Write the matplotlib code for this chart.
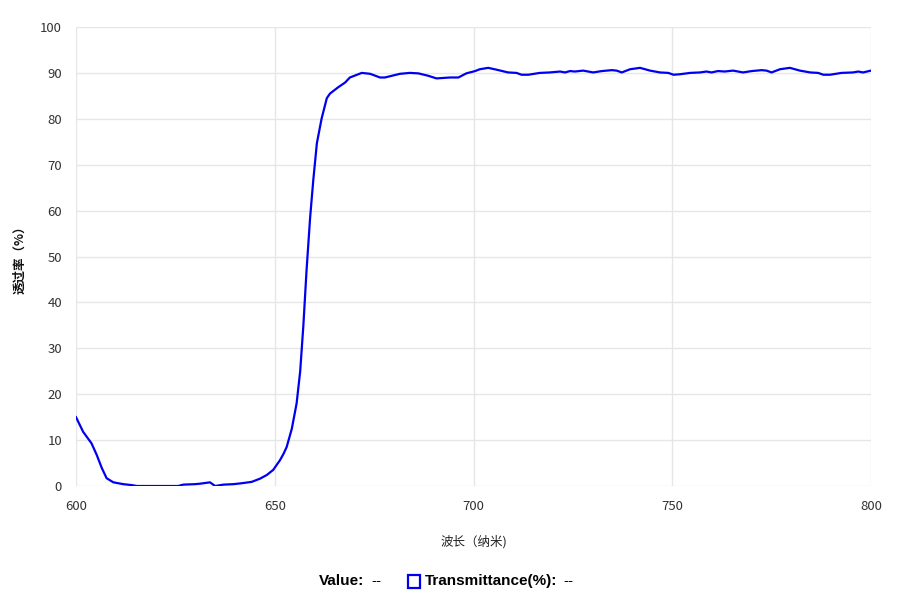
import matplotlib
matplotlib.use("Agg")
import matplotlib.pyplot as plt
from matplotlib.patches import Rectangle

plt.rcParams['font.family'] = ['Noto Sans CJK SC', 'DejaVu Sans']

wavelength = [600, 601.8, 603.9, 605.2, 606.5, 607.7, 609.4, 611.9, 614, 615.3, 620, 625.7,
              627, 629.9, 631.2, 633.7, 635, 637.1, 639.6, 641.7, 644.2, 646.3, 648, 649.6,
              651.3, 652.2, 653, 654.3, 655.5, 656.4, 657.2, 658.0, 658.9, 659.7, 660.6,
              661.8, 663.1, 663.9, 666, 667.7, 668.9, 671.9, 674, 676.5, 677.7, 681.5, 684,
              686.1, 688.5, 690.7, 694.1, 696.2, 698.2, 700.4, 701.6, 703.7, 705.8, 708.7,
              710.8, 712.1, 713.8, 716.7, 719.2, 721.8, 723, 724.3, 725.5, 727.6, 730.1,
              732.3, 734.8, 736.0, 737.3, 739.4, 741.9, 744.4, 746.9, 749, 750.3, 751.9,
              754.5, 757, 758.6, 759.9, 761.5, 763.2, 765.3, 767.8, 770, 772.5, 773.7, 775,
              777.1, 779.6, 782.1, 784.7, 786.7, 788, 789.7, 792.6, 795.5, 796.8, 798, 800]
transmittance = [15.0, 11.8, 9.3, 6.8, 3.9, 1.7, 0.8, 0.4, 0.2, 0.0, 0.0, 0.0,
                 0.3, 0.4, 0.5, 0.8, 0.0, 0.3, 0.4, 0.6, 0.9, 1.6, 2.4, 3.5,
                 5.6, 7.0, 8.5, 12.5, 18.0, 25.0, 35.0, 47.0, 58.5, 66.7, 74.7,
                 80.1, 84.5, 85.5, 86.9, 87.9, 89.0, 90.0, 89.8, 89.0, 89.0, 89.8, 90.0,
                 89.9, 89.4, 88.8, 89.0, 89.0, 89.9, 90.4, 90.8, 91.1, 90.7, 90.1,
                 90.0, 89.6, 89.6, 90.0, 90.1, 90.3, 90.1, 90.4, 90.3, 90.5, 90.1,
                 90.4, 90.6, 90.5, 90.1, 90.8, 91.1, 90.5, 90.1, 90.0, 89.6, 89.7,
                 90.0, 90.1, 90.3, 90.1, 90.4, 90.3, 90.5, 90.1, 90.4, 90.6, 90.5, 90.1,
                 90.8, 91.1, 90.5, 90.1, 90.0, 89.6, 89.6, 90.0, 90.1, 90.3, 90.1, 90.5]
x_ticks = [600, 650, 700, 750, 800]
y_ticks = list(range(0, 101, 10))

fig = plt.figure(figsize=(9.06, 6.14), dpi=100)
ax = fig.add_axes([76/906, 128/614, 795/906, 459/614])
ax.plot(wavelength, transmittance, color='#0000F0', lw=1.6, solid_joinstyle='round')
ax.set_xlim(600, 800)
ax.set_ylim(0, 100)
ax.set_xticks(x_ticks)
ax.set_yticks(y_ticks)
ax.grid(True, color='#e6e6e6', lw=1)
ax.set_axisbelow(True)
for s in ax.spines.values():
    s.set_visible(False)
ax.tick_params(length=0, labelsize=9.5, colors='#333333')
ax.tick_params(axis='y', pad=10)
ax.tick_params(axis='x', pad=10)
ax.set_xlabel('波长（纳米)', fontsize=9, color='#222222', labelpad=16)
ax.set_ylabel('透过率（%）', fontsize=9, color='#111111', fontweight='bold', labelpad=10)

legend_font = ['Liberation Sans', 'DejaVu Sans']
yl = 1 - 581/614
fig.text(319/906, yl, 'Value:', fontsize=11, fontweight='bold', va='center', ha='left',
         family=legend_font)
fig.text(371/906, yl, '--', fontsize=11, va='center', ha='left', family=legend_font)
fig.patches.append(Rectangle((408/906, 1 - 588/614), 12/906, 13/614, transform=fig.transFigure,
                             fill=False, edgecolor='#0000F0', lw=1.6))
fig.text(425/906, yl, 'Transmittance(%):', fontsize=11, fontweight='bold', va='center',
         ha='left', family=legend_font)
fig.text(563/906, yl, '--', fontsize=11, va='center', ha='left', family=legend_font)

fig.savefig('out.png', dpi=100)
